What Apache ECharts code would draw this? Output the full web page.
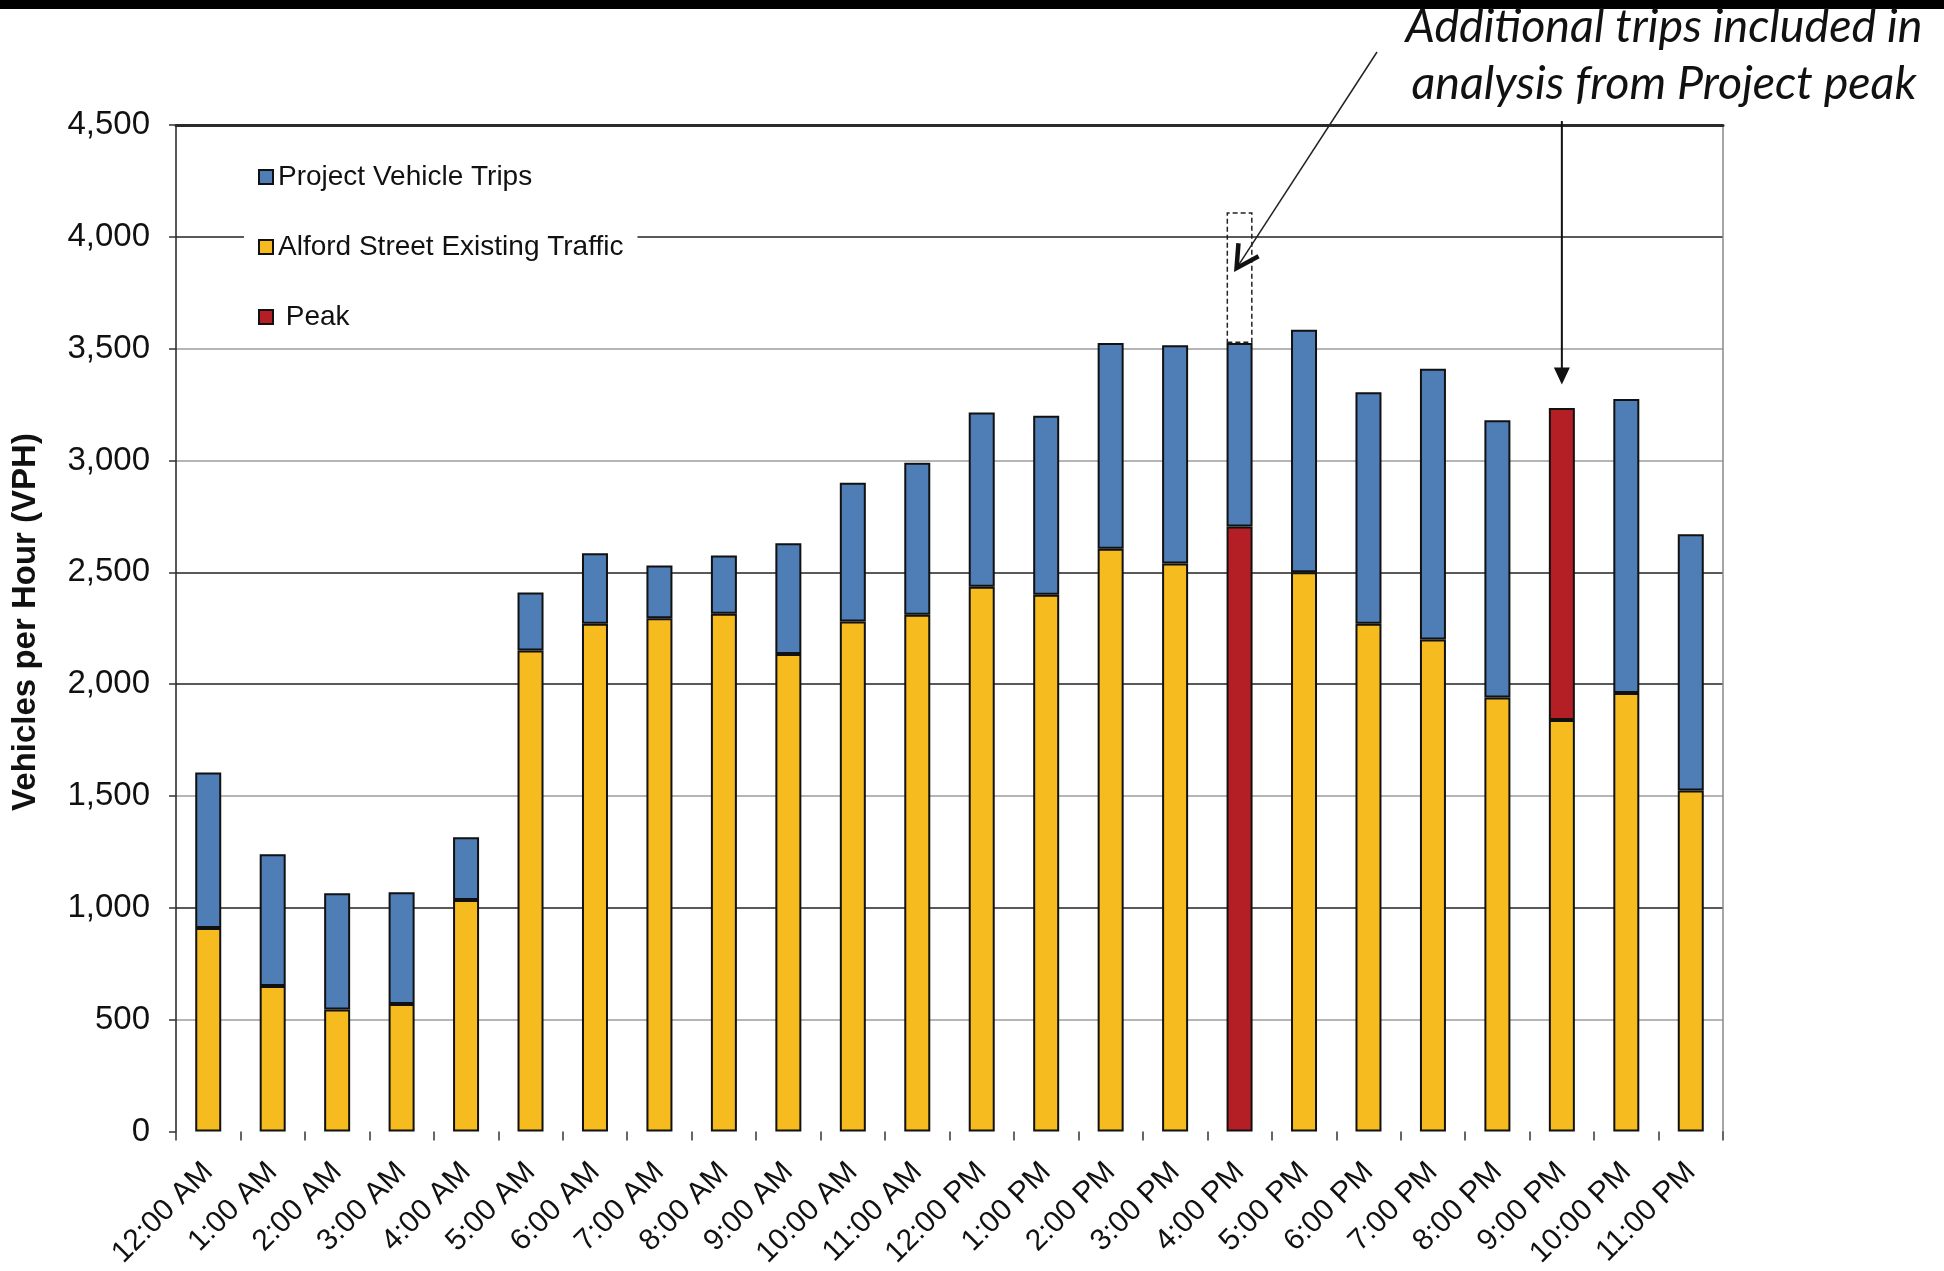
<!DOCTYPE html>
<html>
<head>
<meta charset="utf-8">
<script src="https://cdn.jsdelivr.net/npm/echarts@6/dist/echarts.min.js"></script>
<style>
  html, body { margin: 0; padding: 0; background: #fff; }
  #chart { width: 1944px; height: 1271px; }
</style>
</head>
<body>
<div id="chart"></div>
<script>
// Hourly traffic on Alford Street, vehicles per hour
const hours = ['12:00 AM', '1:00 AM', '2:00 AM', '3:00 AM', '4:00 AM', '5:00 AM', '6:00 AM', '7:00 AM',
  '8:00 AM', '9:00 AM', '10:00 AM', '11:00 AM', '12:00 PM', '1:00 PM', '2:00 PM', '3:00 PM',
  '4:00 PM', '5:00 PM', '6:00 PM', '7:00 PM', '8:00 PM', '9:00 PM', '10:00 PM', '11:00 PM'];
const existingTraffic = [910, 650, 545, 570, 1035, 2150, 2270, 2295, 2315, 2135, 2280, 2310,
  2435, 2400, 2605, 2540, 2705, 2500, 2270, 2200, 1940, 1840, 1960, 1525];
const projectTrips = [695, 590, 520, 500, 280, 260, 315, 235, 260, 495, 620, 680,
  780, 800, 920, 975, 820, 1085, 1035, 1210, 1240, 1395, 1315, 1145];
// Peak hours: existing-traffic peak and project-trip peak
const peakExistingHour = '4:00 PM';
const peakProjectHour = '9:00 PM';
// Extra project trips added to the existing peak hour for analysis
const additionalHour = '4:00 PM';
const additionalTrips = 585;
// Value axis
const yMin = 0, yMax = 4500, yStep = 500;

const FONT = '"Liberation Sans", Arial, sans-serif';
const BLUE = '#4f7db6', YELLOW = '#f6bb1e', RED = '#b41f25', EDGE = '#111';

const chart = echarts.init(document.getElementById('chart'));

const existingData = hours.map((h, i) => h === peakExistingHour
  ? { value: existingTraffic[i], itemStyle: { color: RED } } : existingTraffic[i]);
const projectData = hours.map((h, i) => h === peakProjectHour
  ? { value: projectTrips[i], itemStyle: { color: RED } } : projectTrips[i]);
const additionalData = hours.map(h => h === additionalHour ? additionalTrips : '-');

const barStyle = { borderColor: EDGE, borderWidth: 2 };

chart.setOption({
  animation: false,
  backgroundColor: '#fff',
  grid: { left: 176, right: 221, top: 125, bottom: 139 },
  legend: {
    orient: 'vertical',
    left: 244, top: 148,
    padding: [14, 14, 14, 14],
    backgroundColor: '#fff',
    itemWidth: 14, itemHeight: 14, itemGap: 40,
    icon: 'rect',
    data: ['Project Vehicle Trips', 'Alford Street Existing Traffic', 'Peak'],
    formatter: n => n === 'Peak' ? ' Peak' : n,
    textStyle: { fontFamily: FONT, fontSize: 28, lineHeight: 30, color: '#111' }
  },
  xAxis: [{
    type: 'category',
    data: hours,
    axisLine: { show: false },
    axisTick: { show: true, length: 9, lineStyle: { color: '#333', width: 1.5 } },
    axisLabel: { interval: 0, rotate: 45, fontFamily: FONT, fontSize: 30, color: '#111', margin: 36 },
    splitLine: { show: false }
  }, {
    type: 'category',
    position: 'top',
    data: hours,
    axisLine: { show: true, onZero: false, lineStyle: { color: '#2a2a2a', width: 3 } },
    axisTick: { show: false },
    axisLabel: { show: false }
  }],
  yAxis: [{
    type: 'value',
    min: yMin, max: yMax, interval: yStep,
    axisLine: { show: true, lineStyle: { color: '#222', width: 1.5 } },
    axisTick: { show: true, length: 7, lineStyle: { color: '#333', width: 1.5 } },
    axisLabel: {
      fontFamily: FONT, fontSize: 33, color: '#111', margin: 26,
      formatter: v => v.toLocaleString('en-US')
    },
    splitLine: {
      show: true,
      lineStyle: {
        width: 1.5,
        color: ['rgba(0,0,0,0)', '#9c9c9c', '#222', '#9c9c9c', '#222', '#222', '#9c9c9c', '#9c9c9c', '#222', '#2a2a2a']
      }
    }
  }, {
    type: 'value',
    position: 'right',
    min: yMin, max: yMax, interval: yStep,
    axisLine: { show: true, lineStyle: { color: '#888', width: 1.5 } },
    axisTick: { show: false },
    axisLabel: { show: false },
    splitLine: { show: false }
  }],
  series: [{
    name: 'Alford Street Existing Traffic',
    type: 'bar', stack: 'total', barWidth: 26,
    itemStyle: Object.assign({ color: YELLOW }, barStyle),
    data: existingData
  }, {
    name: 'Project Vehicle Trips',
    type: 'bar', stack: 'total', barWidth: 26,
    itemStyle: Object.assign({ color: BLUE }, barStyle),
    data: projectData
  }, {
    name: 'Peak',
    type: 'bar', stack: 'total', barWidth: 26,
    itemStyle: Object.assign({ color: RED }, barStyle),
    data: []
  }, {
    name: 'Additional trips',
    type: 'bar', stack: 'total', barWidth: 26, silent: true,
    itemStyle: { color: 'rgba(0,0,0,0)', borderColor: '#222', borderWidth: 1.5, borderType: [5, 3] },
    data: additionalData
  }]
});

// Annotation: callout text and two arrows
const noteFont = 'italic 46px Lato, "Open Sans", sans-serif';
const noteLines = ['Additional trips included in', 'analysis from Project peak'];
const noteWidths = [517, 505];
const ctx = document.createElement('canvas').getContext('2d');
ctx.font = noteFont;

const graphics = [{
  type: 'rect', z: 100,
  shape: { x: 0, y: 0, width: 1944, height: 9 },
  style: { fill: '#000' }
}, {
  type: 'text', z: 100, rotation: Math.PI / 2, x: 26, y: 622,
  style: {
    text: 'Vehicles per Hour (VPH)', font: 'bold 33px ' + FONT, fill: '#111',
    textAlign: 'center', textVerticalAlign: 'middle'
  }
}];

noteLines.forEach((t, i) => {
  const w = ctx.measureText(t).width;
  graphics.push({
    type: 'text', z: 100, x: 1664, y: i === 0 ? 27 : 84,
    scaleX: noteWidths[i] / w,
    style: { text: t, font: noteFont, fill: '#111', textAlign: 'center', textVerticalAlign: 'middle' }
  });
});

// Slanted arrow into the dashed box
const tip1 = chart.convertToPixel({ gridIndex: 0 }, [additionalHour, 3860]);
tip1[0] -= 3;
const start1 = [1377, 52];
const ang = Math.atan2(start1[1] - tip1[1], start1[0] - tip1[0]);
const armLen = 25, spread = 0.5;
graphics.push({
  type: 'line', z: 100,
  shape: { x1: start1[0], y1: start1[1], x2: tip1[0], y2: tip1[1] },
  style: { stroke: '#222', lineWidth: 1.5 }
}, {
  type: 'polyline', z: 100,
  shape: {
    points: [
      [tip1[0] + armLen * Math.cos(ang + spread), tip1[1] + armLen * Math.sin(ang + spread)],
      tip1,
      [tip1[0] + armLen * Math.cos(ang - spread), tip1[1] + armLen * Math.sin(ang - spread)]
    ]
  },
  style: { stroke: '#111', lineWidth: 4.5, fill: null, lineJoin: 'miter' }
});

// Vertical arrow onto the project peak hour
const tip2 = chart.convertToPixel({ gridIndex: 0 }, [peakProjectHour, 3340]);
graphics.push({
  type: 'line', z: 100,
  shape: { x1: tip2[0], y1: 121, x2: tip2[0], y2: tip2[1] - 10 },
  style: { stroke: '#111', lineWidth: 2 }
}, {
  type: 'polygon', z: 100,
  shape: { points: [[tip2[0], tip2[1]], [tip2[0] - 8, tip2[1] - 17], [tip2[0] + 8, tip2[1] - 17]] },
  style: { fill: '#111' }
});

chart.setOption({ graphic: graphics });
</script>
</body>
</html>
